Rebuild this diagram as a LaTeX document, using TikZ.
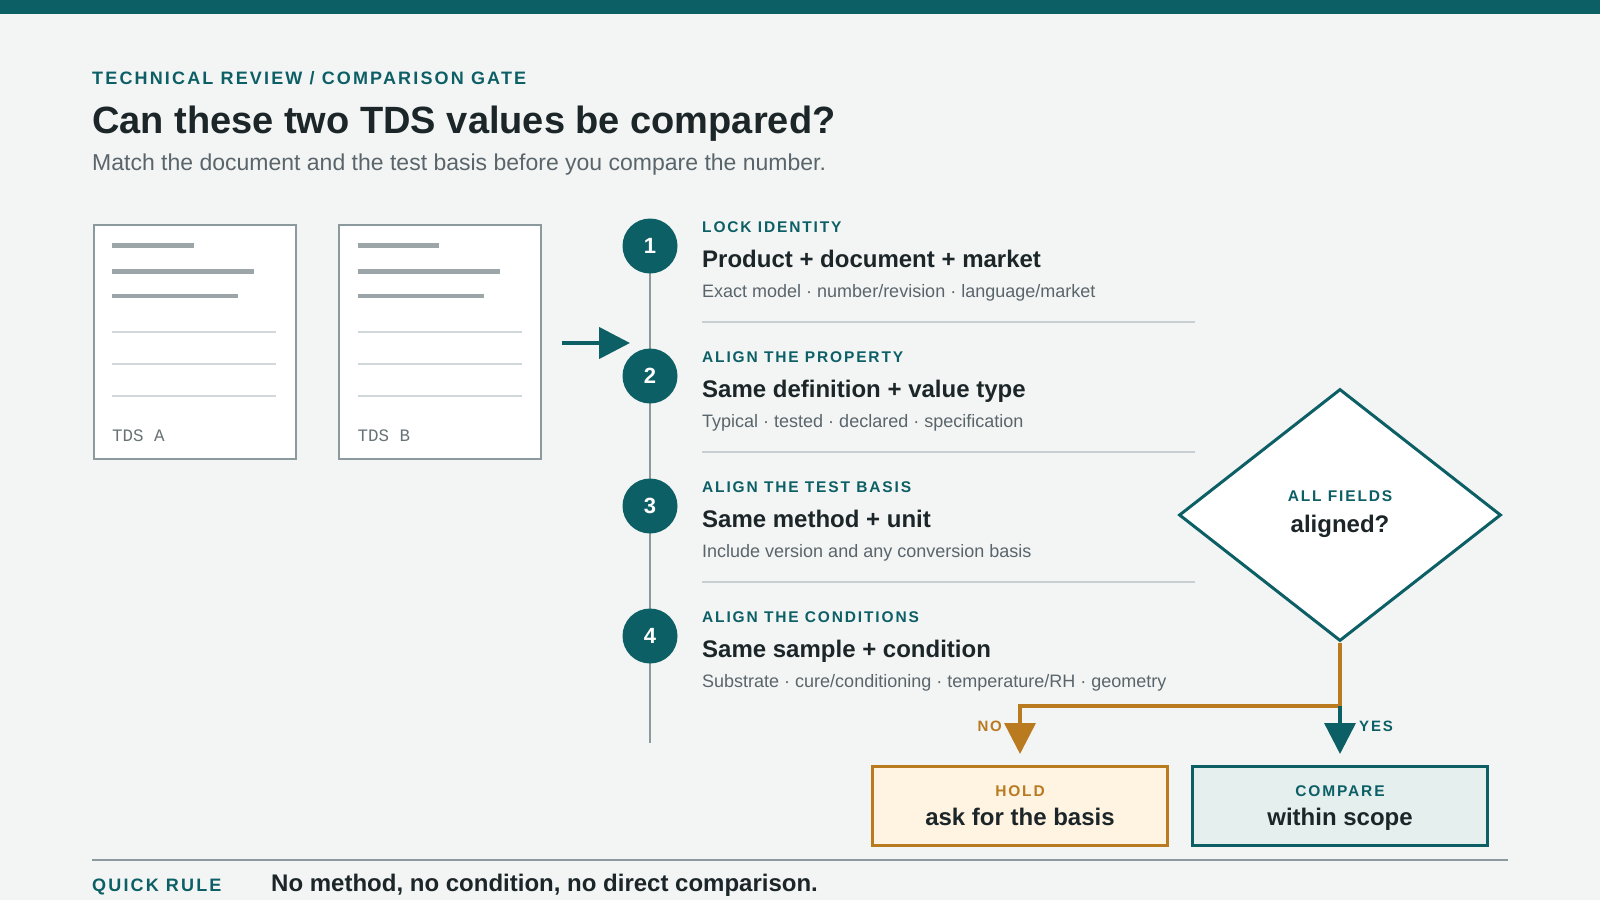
\documentclass[tikz,border=0pt]{standalone}
\usepackage{fontspec}
\usepackage{xcolor}
\setmainfont{Liberation Sans}
\setmonofont{Liberation Mono}
\newfontfamily\trackfont[LetterSpace=12]{Liberation Sans}
\usetikzlibrary{arrows.meta,shapes.geometric,calc}

\definecolor{paper}{HTML}{F3F5F4}
\definecolor{gateteal}{HTML}{0D5F66}
\definecolor{ink}{HTML}{1C2629}
\definecolor{muted}{HTML}{5A656B}
\definecolor{rulegrey}{HTML}{C8CFD2}
\definecolor{frame}{HTML}{8D9A9D}
\definecolor{barfill}{HTML}{9CA6A8}
\definecolor{thinbar}{HTML}{D2D8DA}
\definecolor{monogrey}{HTML}{687377}
\definecolor{amber}{HTML}{B97A20}
\definecolor{holdfill}{HTML}{FFF4E2}
\definecolor{comparefill}{HTML}{E5EFEE}

\begin{document}
\begin{tikzpicture}[x=1pt,y=-1pt,
  txt/.style={inner sep=0pt, anchor=base west},
  kicker/.style={txt, text=gateteal, font=\trackfont\bfseries\fontsize{15.5}{18}\selectfont},
  bigkicker/.style={kicker, font=\trackfont\bfseries\fontsize{18}{22}\selectfont},
  headline/.style={txt, text=ink, font=\bfseries\fontsize{24}{28}\selectfont},
  detail/.style={txt, text=muted, font=\fontsize{18}{22}\selectfont},
  card/.style={draw=frame, line width=2pt, fill=white, minimum width=202pt, minimum height=234pt, inner sep=0pt},
  dot/.style={circle, fill=gateteal, minimum size=55pt, inner sep=0pt, text=white, font=\bfseries\fontsize{22}{26}\selectfont},
  sep/.style={draw=rulegrey, line width=2pt},
  outcome/.style={draw, line width=3pt, minimum width=295pt, minimum height=79pt, inner sep=0pt},
  flowtip/.style={-{Triangle[length=31pt,width=31pt]}},
]
\fill[paper] (0,0) rectangle (1600,900);
\useasboundingbox (0,0) rectangle (1600,900);
\fill[gateteal] (0,0) rectangle (1600,14);

\node[bigkicker] (kicker) at (92,84) {TECHNICAL REVIEW / COMPARISON GATE};
\node[txt, text=ink, font=\bfseries\fontsize{38}{44}\selectfont] (title) at (92,133.5) {Can these two TDS values be compared?};
\node[txt, text=muted, font=\fontsize{23}{27}\selectfont] (subtitle) at (92,170) {Match the document and the test basis before you compare the number.};

\foreach \name/\cx in {A/194.5, B/440} {
  \node[card] (card\name) at (\cx,342.2) {};
  \draw[barfill, line width=4.5pt] ($(card\name.north west)+(19.5,21.4)$) -- +(81.6,0);
  \draw[barfill, line width=4.5pt] ($(card\name.north west)+(19.5,47.4)$) -- +(142,0);
  \draw[barfill, line width=4.5pt] ($(card\name.north west)+(19.5,71.7)$) -- +(126,0);
  \foreach \dy in {107.7,139.4,171.4}
    \draw[thinbar, line width=2pt] ($(card\name.north west)+(19.5,\dy)$) -- +(164,0);
  \node[txt, text=monogrey, font=\ttfamily\fontsize{17.5}{20}\selectfont] (label\name) at ($(card\name.north west)+(19.5,217.5)$) {TDS \name};
}

\coordinate (feedtail) at (562,343);
\coordinate (feedtip) at (630,343);
\draw[gateteal, line width=4.5pt, flowtip] (feedtail) -- (feedtip);

\coordinate (railtop) at (650,246);
\coordinate (railend) at (650,743);
\draw[frame, line width=2pt] (railtop) -- (railend);

\foreach \n/\stepkick/\stephead/\stepnote [evaluate=\n as \y using 246+130*(\n-1)] in {
  1/{LOCK IDENTITY}/{Product + document + market}/{Exact model · number/revision · language/market},
  2/{ALIGN THE PROPERTY}/{Same definition + value type}/{Typical · tested · declared · specification},
  3/{ALIGN THE TEST BASIS}/{Same method + unit}/{Include version and any conversion basis},
  4/{ALIGN THE CONDITIONS}/{Same sample + condition}/{Substrate · cure/conditioning · temperature/RH · geometry}} {
  \node[dot] (step\n) at (650,\y) {\n};
  \node[kicker] (kick\n) at (702,\y-13.5) {\stepkick};
  \node[headline] (head\n) at (702,\y+21) {\stephead};
  \node[detail] (note\n) at (702,\y+51) {\stepnote};
}
\foreach \n in {1,2,3}
  \draw[sep] ($(head\n.base west)+(0,55)$) -- +(493,0);

\node[diamond, draw=gateteal, fill=white, line width=3pt, minimum width=322pt, minimum height=252pt, inner sep=0pt] (gate) at (1340,515) {};
\node[kicker, anchor=base] (gatekick) at ($(gate.center)+(0,-13.3)$) {ALL FIELDS};
\node[headline, anchor=base] (gatehead) at ($(gate.center)+(0,17.3)$) {aligned?};

\node[outcome, draw=amber, fill=holdfill] (hold) at (1020,806) {};
\node[kicker, anchor=base, text=amber] (holdkick) at ($(hold.center)+(0,-9.2)$) {HOLD};
\node[headline, anchor=base] (holdhead) at ($(hold.center)+(0,19.8)$) {ask for the basis};

\node[outcome, draw=gateteal, fill=comparefill] (compare) at (1340,806) {};
\node[kicker, anchor=base] (comparekick) at ($(compare.center)+(0,-9.2)$) {COMPARE};
\node[headline, anchor=base] (comparehead) at ($(compare.center)+(0,19.8)$) {within scope};

\coordinate (split) at (1340,706);
\draw[amber, line width=3.5pt, flowtip, shorten >=11pt] (gate.south) -- (split) -| (hold.north);
\draw[gateteal, line width=3.5pt, flowtip, shorten >=11pt] (split) -- (compare.north);
\node[kicker, anchor=base east, text=amber, font=\trackfont\bfseries\fontsize{15}{18}\selectfont] (nolabel) at (1002,731) {NO};
\node[kicker, font=\trackfont\bfseries\fontsize{15}{18}\selectfont] (yeslabel) at (1359,731) {YES};

\draw[frame, line width=2pt] (92,860) -- (1508,860);
\node[bigkicker] (rulekick) at (92,891.7) {QUICK RULE};
\node[headline] (rulehead) at (271,891.7) {No method, no condition, no direct comparison.};
\end{tikzpicture}
\end{document}
